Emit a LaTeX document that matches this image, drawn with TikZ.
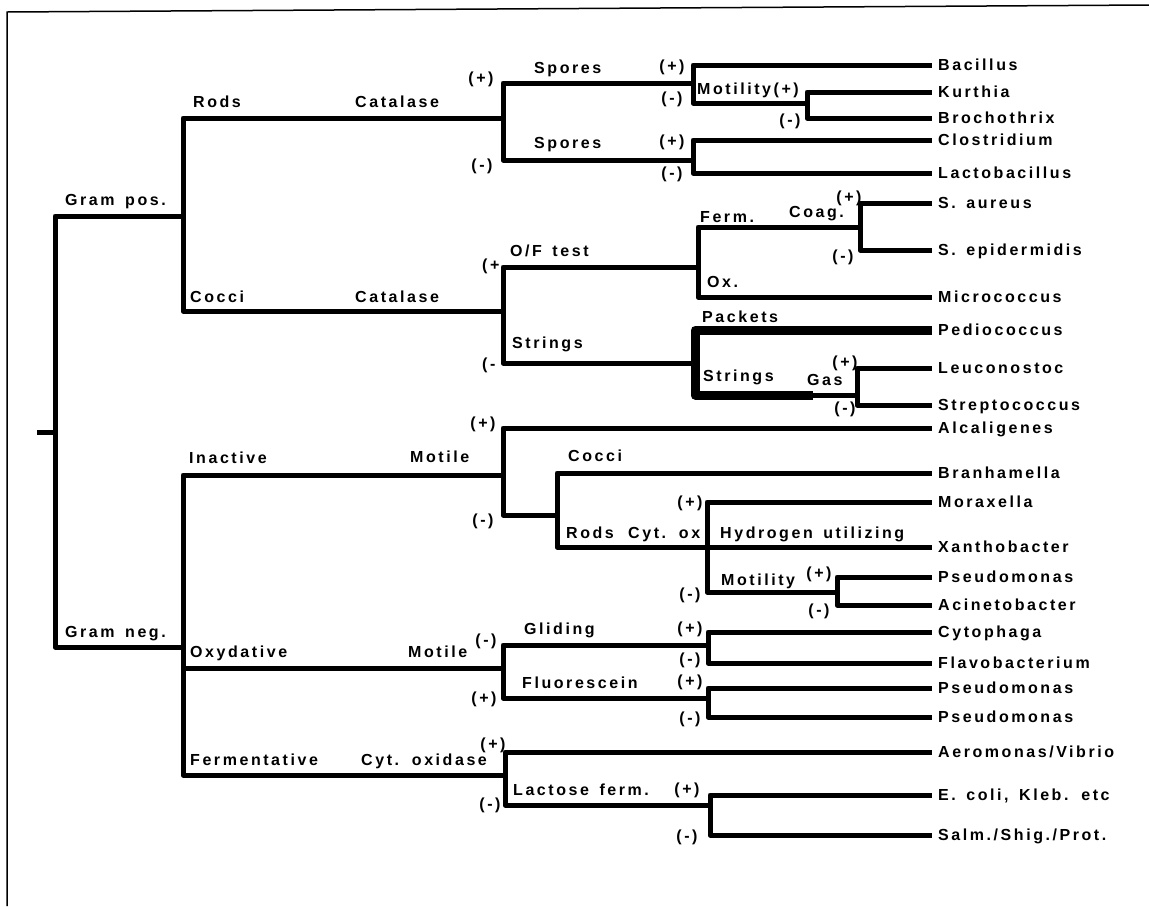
\documentclass[tikz,border=0pt]{standalone}
\usepackage{fontspec}
\setmainfont{Liberation Sans}[UprightFont={* Bold},BoldFont={* Bold},LetterSpace=16,WordSpace=1.5]
\begin{document}
\begin{tikzpicture}[x=1pt,y=-1pt,
  br/.style={line width=5pt,line join=round},
  thk/.style={line width=9pt,line join=round},
  frm/.style={line width=1.5pt},
  txt/.style={font=\fontsize{16}{16}\selectfont,inner sep=0pt,text height=11.4pt,text depth=0pt},
  lbl/.style={txt,anchor=base west},
  sgn/.style={txt,anchor=center},
  sgw/.style={txt,anchor=west},
  leaf/.style={txt,anchor=west,inner xsep=6pt}]
\useasboundingbox (0,0) rectangle (1149,906);
% frame
\coordinate (fTL) at (7,12);
\coordinate (fTR) at (1149,5);
\coordinate (fBL) at (7,906);
\draw[frm] (fBL) -- (fTL) -- (fTR);
% branch points
\coordinate (rootL) at (37,432);
\coordinate (root) at (55,432);
\coordinate (gp) at (183,216);
\coordinate (gn) at (183,647);
\coordinate (rods) at (503,118);
\coordinate (cocci) at (503,311);
\coordinate (spP) at (693,83);
\coordinate (spN) at (693,160);
\coordinate (mot1) at (807,103);
\coordinate (of) at (698,267);
\coordinate (coag) at (860,227);
\coordinate (str) at (695,363);
\coordinate (strmid) at (813,395);
\coordinate (gas) at (857,395);
\coordinate (inact) at (503,475);
\coordinate (mot2) at (557,515);
\coordinate (cytox) at (707,547);
\coordinate (mot3) at (837,592);
\coordinate (oxy) at (503,668);
\coordinate (glid) at (708,645);
\coordinate (fluo) at (708,698);
\coordinate (ferm) at (505,775);
\coordinate (lact) at (710,805);
% leaves
\node[leaf] (Lbac) at (932,65) {Bacillus};
\node[leaf] (Lkur) at (932,92) {Kurthia};
\node[leaf] (Lbro) at (932,118) {Brochothrix};
\node[leaf] (Lclo) at (932,140) {Clostridium};
\node[leaf] (Llac) at (932,173) {Lactobacillus};
\node[leaf] (Lsau) at (932,203) {S. aureus};
\node[leaf] (Lsep) at (932,250) {S. epidermidis};
\node[leaf] (Lmic) at (932,297) {Micrococcus};
\node[leaf] (Lped) at (932,330) {Pediococcus};
\node[leaf] (Lleu) at (932,368) {Leuconostoc};
\node[leaf] (Lstr) at (932,405) {Streptococcus};
\node[leaf] (Lalc) at (932,428) {Alcaligenes};
\node[leaf] (Lbra) at (932,473) {Branhamella};
\node[leaf] (Lmor) at (932,502) {Moraxella};
\node[leaf] (Lxan) at (932,547) {Xanthobacter};
\node[leaf] (Lps1) at (932,577) {Pseudomonas};
\node[leaf] (Laci) at (932,605) {Acinetobacter};
\node[leaf] (Lcyt) at (932,632) {Cytophaga};
\node[leaf] (Lfla) at (932,663) {Flavobacterium};
\node[leaf] (Lps2) at (932,688) {Pseudomonas};
\node[leaf] (Lps3) at (932,717) {Pseudomonas};
\node[leaf] (Laer) at (932,752) {Aeromonas/Vibrio};
\node[leaf] (Leco) at (932,795) {E. coli, Kleb. etc};
\node[leaf] (Lsal) at (932,835) {Salm./Shig./Prot.};
% tree
\draw[br] (rootL) -- (root);
\draw[br] (root) |- (gp);
\draw[br] (root) |- (gn);
\draw[br] (gp) |- (rods);
\draw[br] (gp) |- (cocci);
\draw[br] (rods) |- (spP);
\draw[br] (rods) |- (spN);
\draw[br] (spP) |- (Lbac.west);
\draw[br] (spP) |- (mot1);
\draw[br] (mot1) |- (Lkur.west);
\draw[br] (mot1) |- (Lbro.west);
\draw[br] (spN) |- (Lclo.west);
\draw[br] (spN) |- (Llac.west);
\draw[br] (cocci) |- (of);
\draw[br] (cocci) |- (str);
\draw[br] (of) |- (coag);
\draw[br] (of) |- (Lmic.west);
\draw[br] (coag) |- (Lsau.west);
\draw[br] (coag) |- (Lsep.west);
\draw[thk] (str) |- (Lped.west);
\draw[thk] (str) |- (strmid);
\draw[br] (strmid) -- (gas);
\draw[br] (gas) |- (Lleu.west);
\draw[br] (gas) |- (Lstr.west);
\draw[br] (gn) |- (inact);
\draw[br] (gn) |- (oxy);
\draw[br] (gn) |- (ferm);
\draw[br] (inact) |- (Lalc.west);
\draw[br] (inact) |- (mot2);
\draw[br] (mot2) |- (Lbra.west);
\draw[br] (mot2) |- (cytox);
\draw[br] (cytox) |- (Lmor.west);
\draw[br] (cytox) -- (Lxan.west);
\draw[br] (cytox) |- (mot3);
\draw[br] (mot3) |- (Lps1.west);
\draw[br] (mot3) |- (Laci.west);
\draw[br] (oxy) |- (glid);
\draw[br] (oxy) |- (fluo);
\draw[br] (glid) |- (Lcyt.west);
\draw[br] (glid) |- (Lfla.west);
\draw[br] (fluo) |- (Lps2.west);
\draw[br] (fluo) |- (Lps3.west);
\draw[br] (ferm) |- (Laer.west);
\draw[br] (ferm) |- (lact);
\draw[br] (lact) |- (Leco.west);
\draw[br] (lact) |- (Lsal.west);
% labels
\node[lbl] (tGp) at (65,205) {Gram pos.};
\node[lbl] (tGn) at (65,637) {Gram neg.};
\node[lbl] (tRods) at (193,107) {Rods};
\node[lbl] (tCat1) at (355,107) {Catalase};
\node[lbl] (tCocci) at (190,302) {Cocci};
\node[lbl] (tCat2) at (355,302) {Catalase};
\node[lbl] (tSp1) at (534,73) {Spores};
\node[lbl] (tSp2) at (534,148) {Spores};
\node[lbl] (tMot1) at (697,94) {Motility(+)};
\node[lbl] (tOF) at (510,256) {O/F test};
\node[lbl] (tFerm) at (700,222) {Ferm.};
\node[lbl] (tOx) at (707,287) {Ox.};
\node[lbl] (tCoag) at (789,217) {Coag.};
\node[lbl] (tPack) at (702,322) {Packets};
\node[lbl] (tStr1) at (512,348) {Strings};
\node[lbl] (tStr2) at (703,381) {Strings};
\node[lbl] (tGas) at (807,385) {Gas};
\node[lbl] (tInact) at (189,463) {Inactive};
\node[lbl] (tMotile1) at (410,462) {Motile};
\node[lbl] (tCocci2) at (568,461) {Cocci};
\node[lbl] (tRods2) at (566,538) {Rods};
\node[lbl] (tCytox) at (628,538) {Cyt. ox};
\node[lbl] (tHyd) at (720,538) {Hydrogen utilizing};
\node[lbl] (tMot3) at (721,585) {Motility};
\node[lbl] (tOxy) at (190,657) {Oxydative};
\node[lbl] (tMotile2) at (408,657) {Motile};
\node[lbl] (tGlid) at (524,634) {Gliding};
\node[lbl] (tFluo) at (522,688) {Fluorescein};
\node[lbl] (tFermt) at (190,765) {Fermentative};
\node[lbl] (tCytoxd) at (361,765) {Cyt. oxidase};
\node[lbl] (tLact) at (513,795) {Lactose ferm.};
% signs
\node[sgn] (s1) at (481,78) {(+)};
\node[sgn] (s2) at (482,165) {(-)};
\node[sgn] (s3) at (672,66) {(+)};
\node[sgn] (s4) at (672,98) {(-)};
\node[sgn] (s5) at (672,141) {(+)};
\node[sgn] (s6) at (672,173) {(-)};
\node[sgn] (s7) at (790,120) {(-)};
\node[sgn] (s8) at (849,197) {(+)};
\node[sgn] (s9) at (843,256) {(-)};
\node[sgw] (s10) at (482,265) {(+};
\node[sgw] (s11) at (482,364) {(-};
\node[sgn] (s12) at (845,362) {(+)};
\node[sgn] (s13) at (845,408) {(-)};
\node[sgn] (s14) at (483,423) {(+)};
\node[sgn] (s15) at (483,520) {(-)};
\node[sgn] (s16) at (690,502) {(+)};
\node[sgn] (s17) at (690,594) {(-)};
\node[sgn] (s18) at (819,573) {(+)};
\node[sgn] (s19) at (819,610) {(-)};
\node[sgn] (s20) at (486,640) {(-)};
\node[sgn] (s21) at (690,628) {(+)};
\node[sgn] (s22) at (690,659) {(-)};
\node[sgn] (s23) at (484,698) {(+)};
\node[sgn] (s24) at (690,681) {(+)};
\node[sgn] (s25) at (690,718) {(-)};
\node[sgn] (s26) at (493,744) {(+)};
\node[sgn] (s27) at (490,804) {(-)};
\node[sgn] (s28) at (687,789) {(+)};
\node[sgn] (s29) at (687,836) {(-)};
\end{tikzpicture}
\end{document}
